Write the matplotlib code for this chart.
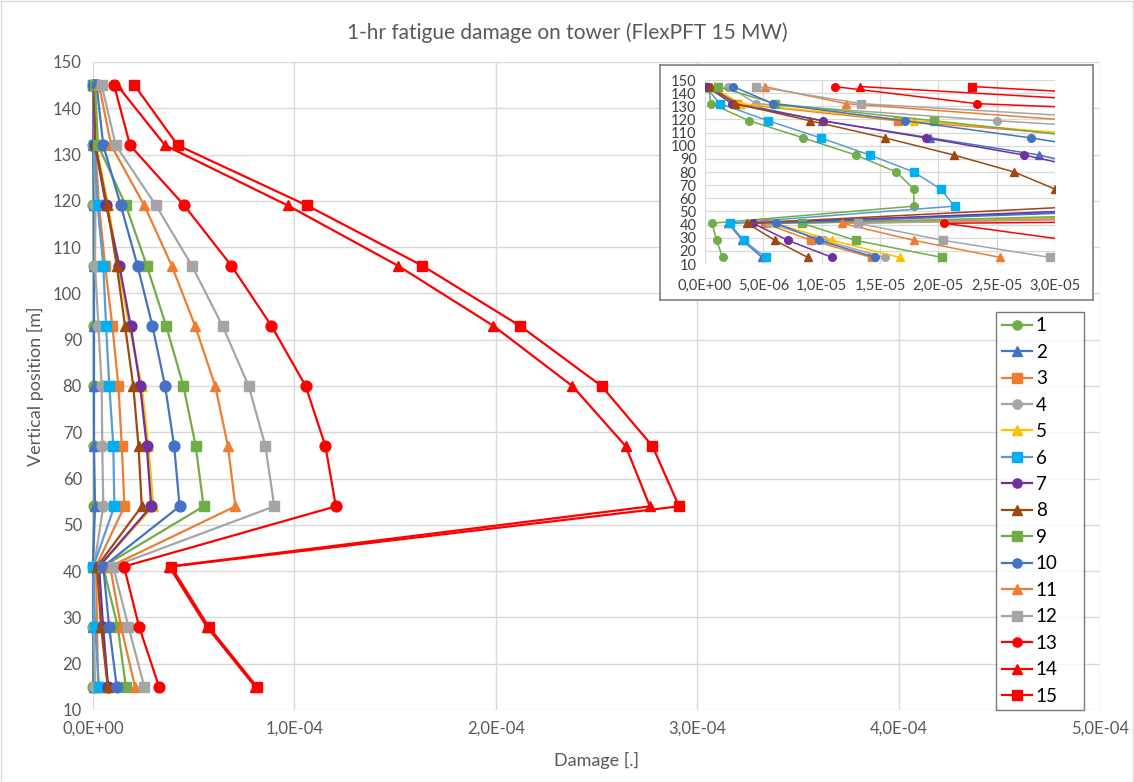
import numpy as np
import matplotlib
matplotlib.use("Agg")
import matplotlib.pyplot as plt
from matplotlib.ticker import FuncFormatter, MultipleLocator
from matplotlib.patches import Rectangle

plt.rcParams['font.family'] = ['Lato', 'DejaVu Sans']

# ---- data -------------------------------------------------------------
heights = [145, 132, 119, 106, 93, 80, 67, 54, 41, 28, 15]   # [m]
UNIT = 1e-5                                                   # values below are in 1E-05

labels = [str(i) for i in range(1, 16)]

# full-range damage per case
main_1 = [0.02, 0.00, 0.02, 0.03, 0.03, 0.03, 0.04, 0.04, 0.00, 0.01, 0.01]
main_2 = [0.00, 0.02, 0.05, 0.05, 0.05, 0.05, 0.05, 0.10, 0.00, 0.02, 0.03]
main_3 = [0.02, 0.10, 0.30, 0.60, 0.96, 1.26, 1.43, 1.56, 0.15, 0.20, 0.25]
main_4 = [0.05, 0.05, 0.12, 0.10, 0.27, 0.43, 0.46, 0.51, 0.05, 0.05, 0.10]
main_5 = [0.03, 0.15, 0.75, 1.25, 1.80, 2.42, 2.75, 3.00, 0.30, 0.45, 0.75]
main_6 = [0.02, 0.05, 0.23, 0.51, 0.65, 0.81, 1.01, 1.06, 0.02, 0.10, 0.30]
main_7 = [0.04, 0.10, 0.65, 1.31, 1.87, 2.34, 2.67, 2.89, 0.30, 0.50, 0.75]
main_8 = [0.05, 0.12, 0.70, 1.18, 1.59, 2.00, 2.26, 2.42, 0.20, 0.40, 0.73]
main_9 = [0.10, 0.25, 1.63, 2.67, 3.63, 4.49, 5.10, 5.49, 0.50, 1.23, 1.63]
main_10 = [0.18, 0.51, 1.38, 2.21, 2.95, 3.58, 4.03, 4.30, 0.51, 0.80, 1.18]
main_11 = [0.30, 0.90, 2.55, 3.91, 5.07, 6.07, 6.70, 7.07, 0.85, 1.39, 2.09]
main_12 = [0.43, 1.13, 3.13, 4.91, 6.43, 7.73, 8.56, 9.00, 1.00, 1.76, 2.55]
main_13 = [1.05, 1.84, 4.53, 6.87, 8.86, 10.56, 11.54, 12.06, 1.54, 2.29, 3.28]
main_14 = [1.20, 3.58, 9.67, 15.14, 19.88, 23.80, 26.45, 27.65, 3.78, 5.65, 8.06]
main_15 = [2.06, 4.21, 10.63, 16.35, 21.20, 25.25, 27.78, 29.10, 3.88, 5.74, 8.14]

# close-up chart values
zoom_1 = [0.03, 0.05, 0.38, 0.84, 1.29, 1.64, 1.79, 1.79, 0.06, 0.10, 0.15]
zoom_2 = [0.00, 0.30, 1.00, 1.93, 2.86, 3.50, 4.00, 4.80, 0.20, 0.32, 0.49]
zoom_3 = [0.00, 0.27, 1.65, 3.50, 4.50, 5.00, 5.50, 9.00, 0.51, 0.91, 1.43]
zoom_4 = [0.20, 0.44, 2.50, 4.90, 6.00, 7.00, 7.50, 9.50, 0.55, 1.02, 1.54]
zoom_5 = [0.05, 0.31, 1.79, 3.58, 4.50, 5.00, 5.50, 8.00, 0.60, 1.09, 1.67]
zoom_6 = [0.00, 0.13, 0.54, 0.99, 1.41, 1.79, 2.02, 2.14, 0.21, 0.33, 0.52]
zoom_7 = [0.02, 0.23, 1.01, 1.89, 2.73, 3.40, 3.90, 4.20, 0.41, 0.71, 1.09]
zoom_8 = [0.05, 0.26, 0.90, 1.54, 2.13, 2.65, 3.00, 3.27, 0.36, 0.60, 0.88]
zoom_9 = [0.11, 0.60, 1.96, 3.30, 4.50, 5.50, 6.00, 6.50, 0.83, 1.29, 2.03]
zoom_10 = [0.24, 0.585, 1.71, 2.79, 3.70, 4.30, 4.60, 4.75, 0.61, 0.98, 1.46]
zoom_11 = [0.51, 1.21, 3.17, 5.00, 6.50, 7.50, 8.50, 9.10, 1.17, 1.79, 2.53]
zoom_12 = [0.44, 1.34, 3.85, 6.00, 8.00, 9.50, 10.00, 10.10, 1.31, 2.04, 2.96]
zoom_13 = [1.11, 2.33, 6.10, 9.00, 11.00, 13.00, 15.00, 20.00, 2.05, 3.12, 4.20]
zoom_14 = [1.33, 3.88, 12.00, 18.00, 24.00, 28.00, 30.00, 32.00, 4.50, 6.50, 9.00]
zoom_15 = [2.29, 5.00, 13.00, 19.00, 25.00, 29.00, 31.00, 33.00, 4.60, 6.60, 9.10]

main_series = [main_1, main_2, main_3, main_4, main_5, main_6, main_7, main_8,
               main_9, main_10, main_11, main_12, main_13, main_14, main_15]
zoom_series = [zoom_1, zoom_2, zoom_3, zoom_4, zoom_5, zoom_6, zoom_7, zoom_8,
               zoom_9, zoom_10, zoom_11, zoom_12, zoom_13, zoom_14, zoom_15]

# ---- styles -----------------------------------------------------------
line_colors = ['#70AD47', '#4472C4', '#ED7D31', '#A5A5A5', '#FFC000', '#5B9BD5',
               '#7030A0', '#9E480E', '#70AD47', '#4472C4', '#ED7D31', '#A5A5A5',
               '#FF0000', '#FF0000', '#FF0000']
marker_colors = ['#70AD47', '#4472C4', '#ED7D31', '#A5A5A5', '#FFC000', '#00B0F0',
                 '#7030A0', '#9E480E', '#70AD47', '#4472C4', '#ED7D31', '#A5A5A5',
                 '#FF0000', '#FF0000', '#FF0000']
markers = ['o', '^', 's', 'o', '^', 's', 'o', '^', 's', 'o', '^', 's', 'o', '^', 's']

TEXT = '#595959'
GRID = '#D9D9D9'

W, H = 1134, 782
fig = plt.figure(figsize=(W / 100, H / 100), dpi=100)


def px_axes(x0, y0, x1, y1, **kw):
    return fig.add_axes([x0 / W, 1 - y1 / H, (x1 - x0) / W, (y1 - y0) / H], **kw)


def sci_comma(v, pos=None):
    if abs(v) < 1e-15:
        return "0,0E+00"
    e = int(np.floor(np.log10(abs(v)) + 1e-9))
    m = v / 10 ** e
    return f"{m:.1f}".replace('.', ',') + f"E{e:+03d}"


# outer chart border
fig.patches.append(Rectangle((0.5 / W, 0.5 / H), 1 - 1.5 / W, 1 - 1.5 / H,
                             transform=fig.transFigure, fill=False,
                             edgecolor=GRID, linewidth=1))

# ---- main chart -------------------------------------------------------
ax = px_axes(93, 62, 1100, 710)
for i, vals in enumerate(main_series):
    ax.plot(np.array(vals) * UNIT, heights, color=line_colors[i], lw=1.6,
            marker=markers[i], ms=7.8, mfc=marker_colors[i], mec=marker_colors[i],
            label=labels[i], zorder=3 + i * 0.01, clip_on=False)

ax.set_xlim(0, 5e-4)
ax.set_ylim(10, 150)
ax.xaxis.set_major_locator(MultipleLocator(1e-4))
ax.yaxis.set_major_locator(MultipleLocator(10))
ax.xaxis.set_major_formatter(FuncFormatter(sci_comma))
ax.grid(True, color=GRID, lw=1)
ax.set_axisbelow(True)
for s in ax.spines.values():
    s.set_visible(False)
ax.tick_params(length=0, labelsize=12, colors=TEXT, pad=8)
ax.xaxis.get_offset_text().set_visible(False)

fig.text(0.5, 1 - 33 / H, "1-hr fatigue damage on tower (FlexPFT 15 MW)",
         ha='center', va='center', fontsize=15, color=TEXT)
fig.text(596 / W, 1 - 760 / H, "Damage [.]", ha='center', va='center',
         fontsize=13, color=TEXT)
fig.text(35 / W, 1 - 386 / H, "Vertical position [m]", ha='center', va='center',
         rotation=90, fontsize=13, color=TEXT)

# legend
leg = fig.legend(*ax.get_legend_handles_labels(), loc='upper left',
                 bbox_to_anchor=(987 / W, 1 - 310 / H, 106 / W, 0.01),
                 bbox_transform=fig.transFigure, mode='expand',
                 frameon=True, fancybox=False, fontsize=13.5,
                 handlelength=1.6, handletextpad=0.2, labelspacing=0.505,
                 borderpad=0.3, markerscale=0.85)
leg.get_frame().set_edgecolor('#595959')
leg.get_frame().set_linewidth(1.0)
for t in leg.get_texts():
    t.set_color('black')

# ---- close-up chart ---------------------------------------------------
frame = px_axes(660, 65, 1093, 300)
frame.set_xticks([])
frame.set_yticks([])
frame.set_facecolor('white')
for s in frame.spines.values():
    s.set_edgecolor('#7F7F7F')
    s.set_linewidth(1.2)
frame.set_zorder(5)

ins = px_axes(705, 80, 1055, 264)
ins.set_zorder(6)
ins.set_facecolor('none')
for i, vals in enumerate(zoom_series):
    ins.plot(np.array(vals) * UNIT, heights, color=line_colors[i], lw=1.1,
             marker=markers[i], ms=5.5, mfc=marker_colors[i], mec=marker_colors[i])
ins.set_xlim(0, 3e-5)
ins.set_ylim(10, 150)
ins.xaxis.set_major_locator(MultipleLocator(5e-6))
ins.yaxis.set_major_locator(MultipleLocator(10))
ins.xaxis.set_major_formatter(FuncFormatter(sci_comma))
ins.grid(True, color=GRID, lw=0.9)
ins.set_axisbelow(True)
for s in ins.spines.values():
    s.set_visible(False)
ins.tick_params(length=0, labelsize=10.5, colors='#404040', pad=6)
ins.tick_params(axis='x', pad=11)
ins.xaxis.get_offset_text().set_visible(False)

fig.savefig("out.png", dpi=100)
